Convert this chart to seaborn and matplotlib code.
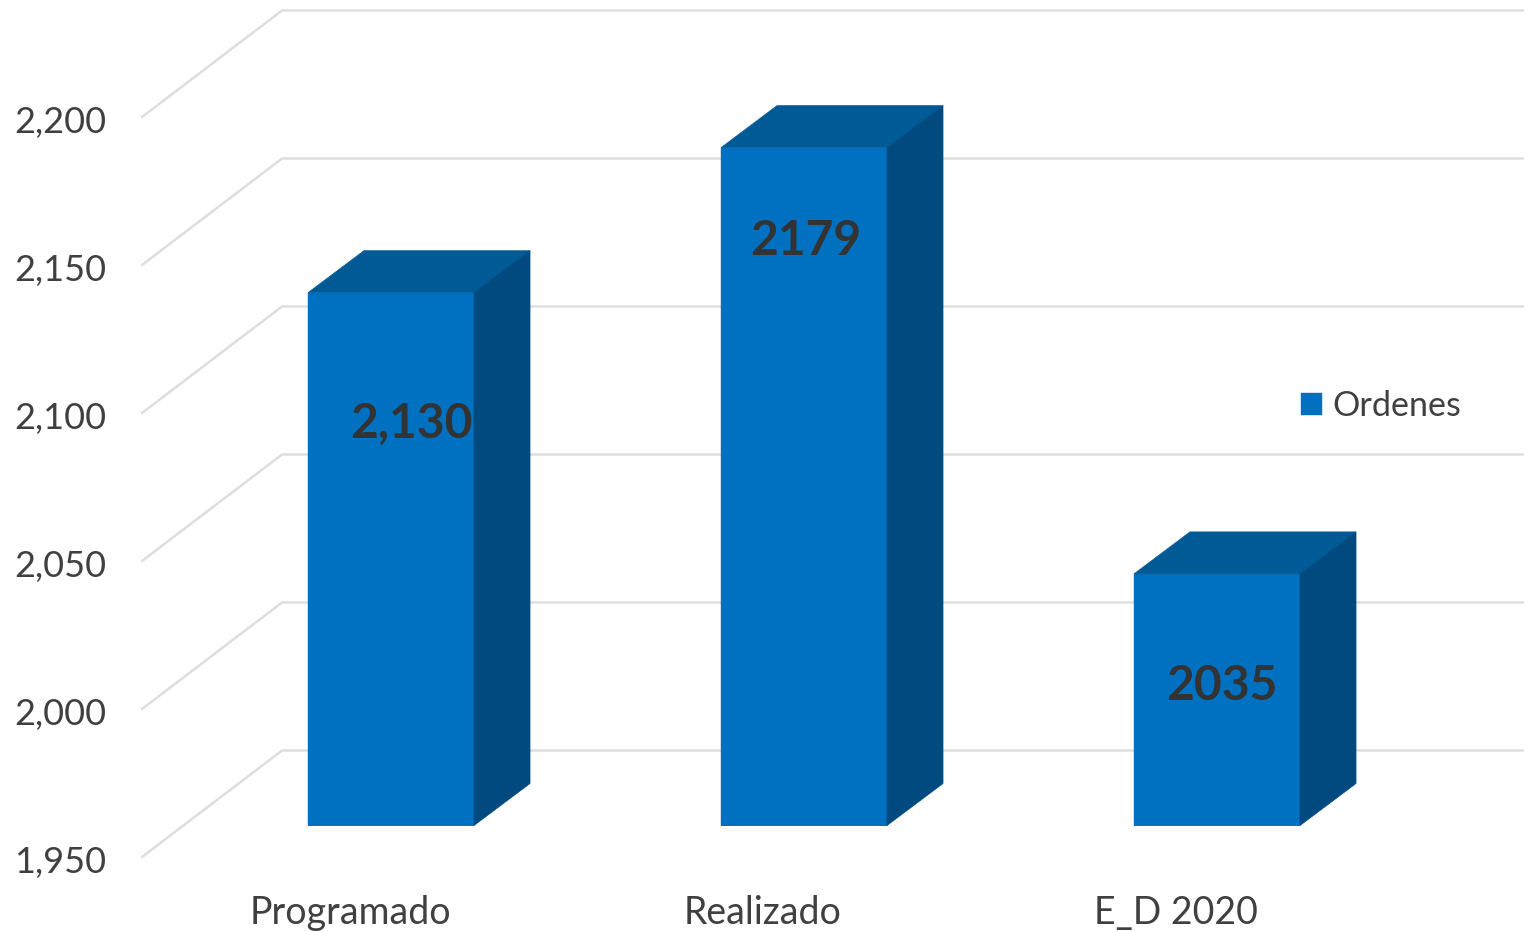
"""Orders chart with a fake 3D look, drawn on seaborn bars."""

import matplotlib
matplotlib.use("Agg")
import matplotlib.pyplot as plt
import pandas as pd
import seaborn as sns
from matplotlib.patches import Polygon
from matplotlib.transforms import Affine2D, IdentityTransform

W, H = 1532, 931

categories = ["Programado", "Realizado", "E_D 2020"]
ordenes = [2130, 2179, 2035]
value_labels = ["2,130", "2179", "2035"]
y_ticks = [1950, 2000, 2050, 2100, 2150, 2200]
y_tick_labels = ["1,950", "2,000", "2,050", "2,100", "2,150", "2,200"]

# where the value labels sit, in data units
label_x = [0.05, 1.005, 2.012]
label_y = [2086, 2147.5, 1997]

FRONT = "#0070C0"
TOP = "#005A96"
SIDE = "#004A80"
GRID = "#DEDEDE"
TEXT = "#404040"

sns.set_theme(style="white")
plt.rcParams["font.family"] = ["Lato", "DejaVu Sans"]

fig = plt.figure(figsize=(W / 100, H / 100), dpi=100)
ax = fig.add_axes([184.5 / W, (H - 825.5) / H, 1239 / W, 740 / H])

df = pd.DataFrame({"cat": categories, "Ordenes": ordenes})
sns.barplot(data=df, x="cat", y="Ordenes", color=FRONT, saturation=1, width=0.402,
            label="Ordenes", ax=ax, zorder=3, edgecolor=FRONT, linewidth=0.3)
ax.set_xlim(-0.5, 2.5)
ax.set_ylim(1950, 2200)
ax.set_xlabel("")
ax.set_ylabel("")
sns.despine(ax=ax, left=True, bottom=True, top=True, right=True)
ax.patch.set_alpha(0)

# back wall and left wall lines
for v in y_ticks:
    x0, y0 = ax.transData.transform((-0.5, v))
    x1, y1 = ax.transData.transform((2.5, v))
    ax.plot([x0 - 42.5, x0 + 97.5, x1 + 99.5], [y0 - 31.5, y0 + 75, y1 + 75], color=GRID, lw=1.8,
            transform=IdentityTransform(), clip_on=False, zorder=1)

# depth faces of the bars
dx, dy = 56, 42
base = ax.get_ylim()[0]
for bar in list(ax.patches):
    x0, y0 = ax.transData.transform((bar.get_x(), base))
    x1, y1 = ax.transData.transform((bar.get_x() + bar.get_width(), bar.get_height()))
    top = [(x0, y1), (x1, y1), (x1 + dx, y1 + dy), (x0 + dx, y1 + dy)]
    side = [(x1, y0), (x1 + dx, y0 + dy), (x1 + dx, y1 + dy), (x1, y1)]
    for pts, col in ((top, TOP), (side, SIDE)):
        ax.add_patch(Polygon(pts, closed=True, facecolor=col, edgecolor=col, lw=0.5,
                             transform=IdentityTransform(), clip_on=False, zorder=3))

for x, y, s in zip(label_x, label_y, value_labels):
    ax.text(x, y, s, ha="center", va="center", fontsize=34.5, fontweight="bold", color="#333333", zorder=5)

# tick labels live on the front edge of the left wall
ax.set_yticks(y_ticks, y_tick_labels)
ax.tick_params(axis="y", length=0, pad=0, labelsize=26, labelcolor=TEXT)
ax.tick_params(axis="x", length=0, pad=0, labelsize=27, labelcolor=TEXT)
for lab in ax.get_yticklabels():
    lab.set_transform(lab.get_transform() + Affine2D().translate(-78.5, -33.5))
for lab in ax.get_xticklabels():
    lab.set_transform(lab.get_transform() + Affine2D().translate(-41, -87.5))
    lab.set_va("center")

ax.legend(loc="center left", bbox_to_anchor=((1300.5 - 184.5) / 1239, (825.5 - 406) / 740), frameon=False,
          fontsize=24.6, labelcolor=TEXT, handlelength=0.62, handleheight=0.62, handletextpad=0.3,
          borderpad=0, borderaxespad=0)

fig.savefig("out.png", dpi=100)
